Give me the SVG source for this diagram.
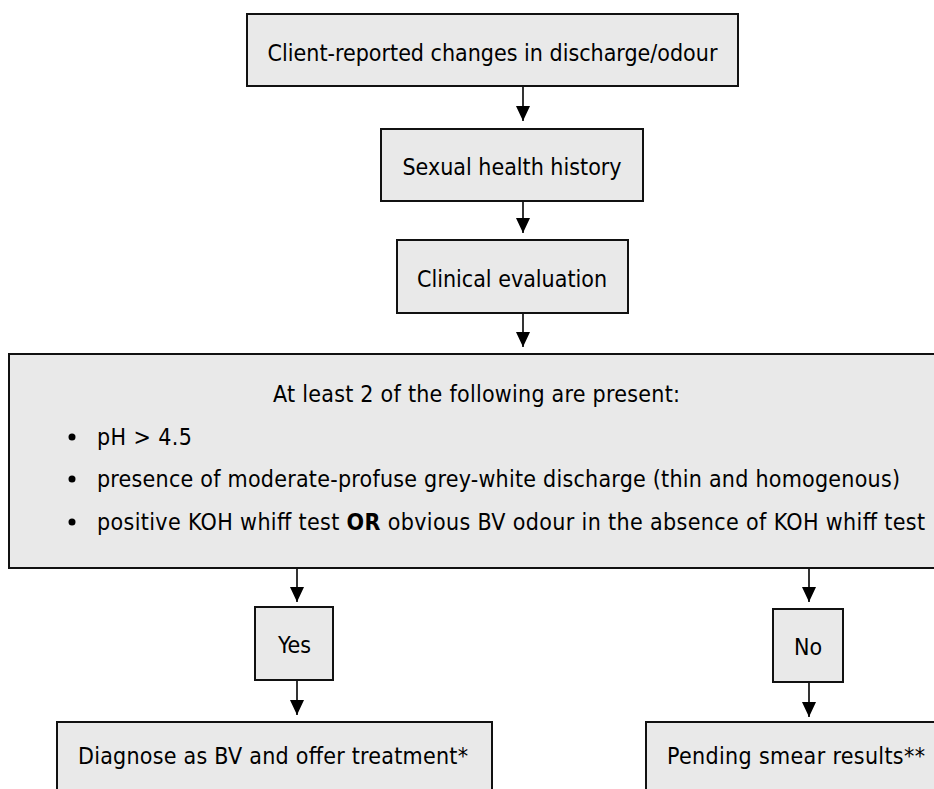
<svg xmlns="http://www.w3.org/2000/svg" width="934" height="789" viewBox="0 0 934 789">
  <style>
    .box { fill: #e9e9e9; stroke: #111; stroke-width: 2; }
    .t { font-family: "DejaVu Sans Condensed", "DejaVu Sans", sans-serif; font-stretch: condensed; font-size: 23px; fill: #000; }
    .c { text-anchor: middle; }
    .conn { stroke: #000; stroke-width: 1.6; fill: none; marker-end: url(#arrow); }
    .dot { fill: #000; }
  </style>
  <defs>
    <marker id="arrow" markerUnits="userSpaceOnUse" markerWidth="15" markerHeight="14" viewBox="0 0 15 14" refX="15" refY="7" orient="auto">
      <path d="M0,0 L15,7 L0,14 Z" fill="#000"/>
    </marker>
  </defs>
  <rect width="934" height="789" fill="#fff"/>

  <g id="connectors">
    <line class="conn" x1="523" y1="86" x2="523" y2="121"/>
    <line class="conn" x1="523" y1="201" x2="523" y2="233"/>
    <line class="conn" x1="523" y1="313" x2="523" y2="347"/>
    <line class="conn" x1="297" y1="568" x2="297" y2="602"/>
    <line class="conn" x1="297" y1="680" x2="297" y2="715"/>
    <line class="conn" x1="809" y1="568" x2="809" y2="602"/>
    <line class="conn" x1="809" y1="682" x2="809" y2="717"/>
  </g>

  <g id="client-reported">
    <rect class="box" x="247" y="14" width="491" height="72"/>
    <text class="t c" x="492.5" y="61">Client-reported changes in discharge/odour</text>
  </g>

  <g id="sexual-health-history">
    <rect class="box" x="381" y="129" width="262" height="72"/>
    <text class="t c" x="512" y="175">Sexual health history</text>
  </g>

  <g id="clinical-evaluation">
    <rect class="box" x="397" y="240" width="231" height="73"/>
    <text class="t c" x="512" y="287">Clinical evaluation</text>
  </g>

  <g id="criteria">
    <rect class="box" x="9" y="354" width="940" height="214"/>
    <text class="t" x="273" y="402" textLength="407">At least 2 of the following are present:</text>
    <circle class="dot" cx="72" cy="437" r="3.5"/>
    <text class="t" x="97" y="445" textLength="95">pH &gt; 4.5</text>
    <circle class="dot" cx="72" cy="479" r="3.5"/>
    <text class="t" x="97" y="487" textLength="803">presence of moderate-profuse grey-white discharge (thin and homogenous)</text>
    <circle class="dot" cx="72" cy="522" r="3.5"/>
    <text class="t" x="97" y="530" textLength="828">positive KOH whiff test <tspan font-weight="bold">OR</tspan> obvious BV odour in the absence of KOH whiff test</text>
  </g>

  <g id="yes">
    <rect class="box" x="255" y="607" width="78" height="73"/>
    <text class="t c" x="294.5" y="653">Yes</text>
  </g>

  <g id="no">
    <rect class="box" x="773" y="609" width="70" height="73"/>
    <text class="t c" x="808" y="655">No</text>
  </g>

  <g id="diagnose">
    <rect class="box" x="57" y="722" width="435" height="90"/>
    <text class="t" x="78" y="764" textLength="390">Diagnose as BV and offer treatment*</text>
  </g>

  <g id="pending">
    <rect class="box" x="646" y="722" width="300" height="90"/>
    <text class="t" x="667" y="764" textLength="258">Pending smear results**</text>
  </g>
</svg>
